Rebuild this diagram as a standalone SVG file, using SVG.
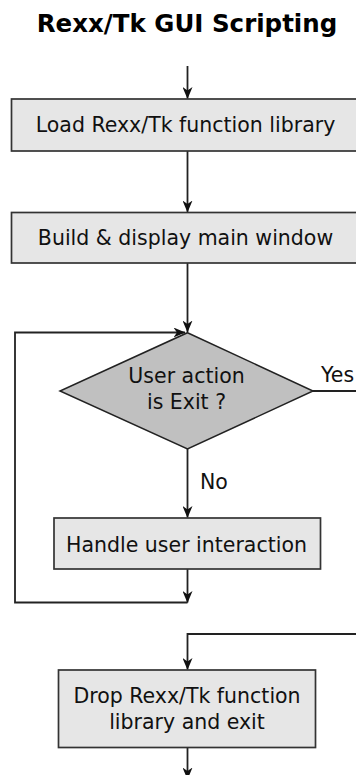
<svg xmlns="http://www.w3.org/2000/svg" width="356" height="775" viewBox="0 0 356 775">
<defs>
<style>
.box{fill:#e6e6e6;stroke:#333;stroke-width:1.7}
.dia{fill:#c0c0c0;stroke:#222;stroke-width:1.5}
.t{font-family:"DejaVu Sans",sans-serif;font-size:20.5px;fill:#111;text-anchor:middle}
.lbl{font-family:"DejaVu Sans",sans-serif;font-size:20.5px;fill:#111}
.title{font-family:"DejaVu Sans",sans-serif;font-weight:bold;font-size:24.5px;fill:#000;text-anchor:middle}
.c{fill:none;stroke:#222;stroke-width:1.8}
</style>
<marker id="ah" viewBox="0 0 12 10" refX="11.5" refY="5" markerWidth="12" markerHeight="10" markerUnits="userSpaceOnUse" orient="auto">
<path d="M0,0 L12,5 L0,10 L3.5,5 z" fill="#111"/>
</marker>
</defs>
<text class="title" x="187" y="32">Rexx/Tk GUI Scripting</text>
<g id="connectors">
<line class="c" x1="187.5" y1="66" x2="187.5" y2="98.5" marker-end="url(#ah)"/>
<line class="c" x1="187.5" y1="151" x2="187.5" y2="212" marker-end="url(#ah)"/>
<line class="c" x1="187.5" y1="263" x2="187.5" y2="332" marker-end="url(#ah)"/>
<line class="c" x1="187.5" y1="449" x2="187.5" y2="517.5" marker-end="url(#ah)"/>
<line class="c" x1="187.5" y1="569" x2="187.5" y2="602.5" marker-end="url(#ah)"/>
<polyline class="c" points="187.5,602.5 15,602.5 15,332.5 185,332.5" marker-end="url(#ah)"/>
<line class="c" x1="313" y1="391" x2="360" y2="391"/>
<polyline class="c" points="360,634 187.5,634 187.5,669.5" marker-end="url(#ah)"/>
<line class="c" x1="187.5" y1="747.5" x2="187.5" y2="779" marker-end="url(#ah)"/>
<text class="lbl" x="321" y="382">Yes</text>
<text class="lbl" x="200" y="489">No</text>
</g>
<g id="load">
<rect class="box" x="11.5" y="99" width="352" height="52"/>
<text class="t" x="185.5" y="132.3">Load Rexx/Tk function library</text>
</g>
<g id="build">
<rect class="box" x="11.5" y="212.5" width="352" height="50.5"/>
<text class="t" x="185.5" y="245">Build &amp; display main window</text>
</g>
<g id="decision">
<polygon class="dia" points="187.5,332.7 313,391 187.5,449 60,391"/>
<text class="t" x="186.5" y="383.3">User action</text>
<text class="t" x="186.5" y="409.3">is Exit ?</text>
</g>
<g id="handle">
<rect class="box" x="54" y="518" width="266.5" height="51"/>
<text class="t" x="186.5" y="552">Handle user interaction</text>
</g>
<g id="drop">
<rect class="box" x="58.5" y="670" width="257" height="77.5"/>
<text class="t" x="187" y="703">Drop Rexx/Tk function</text>
<text class="t" x="187" y="729">library and exit</text>
</g>
</svg>
